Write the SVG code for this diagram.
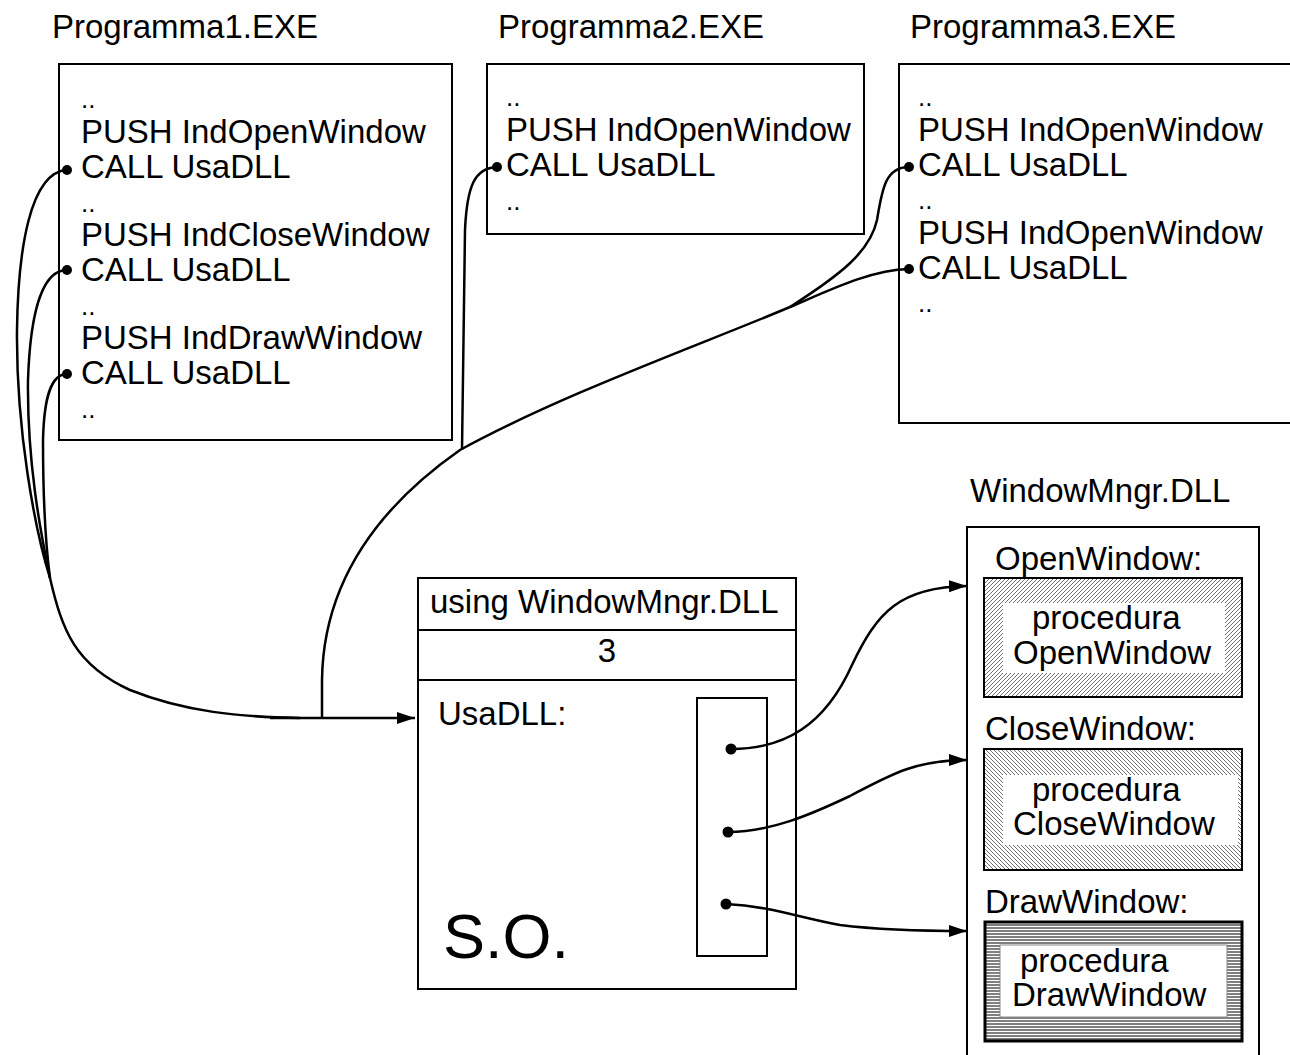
<svg xmlns="http://www.w3.org/2000/svg" width="1290" height="1055" viewBox="0 0 1290 1055">
<style>
text{font-family:"Liberation Sans",Arial,sans-serif;font-size:33px;fill:#000}
.dd{font-size:26px}
.box{fill:#fff;stroke:#000;stroke-width:2}
.ln{fill:none;stroke:#000;stroke-width:2}
.cn{fill:none;stroke:#000;stroke-width:2.5}
.dot{fill:#000}
.inner{fill:#fff;stroke:none}
</style>
<defs>
<marker id="arr" markerUnits="userSpaceOnUse" markerWidth="20" markerHeight="14" refX="18" refY="6" orient="auto">
<path d="M0,0 L18,6 L0,12 z" fill="#000"/>
</marker>
<pattern id="hOpen" patternUnits="userSpaceOnUse" width="4" height="4">
<rect width="4" height="4" fill="#fff"/>
<path d="M-1,1 L1,-1 M0,4 L4,0 M3,5 L5,3" stroke="#333" stroke-width="0.7"/>
</pattern>
<pattern id="hClose" patternUnits="userSpaceOnUse" width="4" height="4">
<rect width="4" height="4" fill="#fff"/>
<path d="M-1,3 L1,5 M0,0 L4,4 M3,-1 L5,1" stroke="#333" stroke-width="0.7"/>
</pattern>
<pattern id="hDraw" patternUnits="userSpaceOnUse" width="4" height="3">
<rect width="4" height="3" fill="#fff"/>
<path d="M0,1 H4" stroke="#000" stroke-width="1"/>
</pattern>
</defs>

<g id="programma1">
<text x="52" y="38">Programma1.EXE</text>
<rect class="box" x="59" y="64" width="393" height="376"/>
<text class="dd" x="81" y="108">..</text>
<text x="81" y="143">PUSH IndOpenWindow</text>
<text x="81" y="178">CALL UsaDLL</text>
<text class="dd" x="81" y="212">..</text>
<text x="81" y="246">PUSH IndCloseWindow</text>
<text x="81" y="281">CALL UsaDLL</text>
<text class="dd" x="81" y="315">..</text>
<text x="81" y="349">PUSH IndDrawWindow</text>
<text x="81" y="384">CALL UsaDLL</text>
<text class="dd" x="81" y="418">..</text>
</g>

<g id="programma2">
<text x="498" y="38">Programma2.EXE</text>
<rect class="box" x="487" y="64" width="377" height="170"/>
<text class="dd" x="506" y="106">..</text>
<text x="506" y="141">PUSH IndOpenWindow</text>
<text x="506" y="176">CALL UsaDLL</text>
<text class="dd" x="506" y="210">..</text>
</g>

<g id="programma3">
<text x="910" y="38">Programma3.EXE</text>
<path class="box" d="M1296,64 H899 V423 H1296"/>
<text class="dd" x="918" y="106">..</text>
<text x="918" y="141">PUSH IndOpenWindow</text>
<text x="918" y="176">CALL UsaDLL</text>
<text class="dd" x="918" y="209">..</text>
<text x="918" y="244">PUSH IndOpenWindow</text>
<text x="918" y="279">CALL UsaDLL</text>
<text class="dd" x="918" y="312">..</text>
</g>

<g id="so">
<rect class="box" x="418" y="578" width="378" height="411"/>
<path class="ln" d="M418,630 H796 M418,680 H796"/>
<text x="430" y="613">using WindowMngr.DLL</text>
<text x="607" y="662" text-anchor="middle">3</text>
<text x="438" y="725">UsaDLL:</text>
<text x="443" y="958" style="font-size:63px">S.O.</text>
<rect class="box" x="697" y="698" width="70" height="258"/>
</g>

<g id="windowmngr">
<text x="970" y="502">WindowMngr.DLL</text>
<path class="box" d="M967,1060 V527 H1259 V1060"/>
<text x="995" y="570">OpenWindow:</text>
<rect x="984" y="578" width="258" height="119" fill="url(#hOpen)" stroke="#000" stroke-width="2"/>
<rect class="inner" x="1003" y="603" width="222" height="70"/>
<text x="1032" y="629">procedura</text>
<text x="1013" y="664">OpenWindow</text>
<text x="985" y="740">CloseWindow:</text>
<rect x="984" y="749" width="258" height="121" fill="url(#hClose)" stroke="#000" stroke-width="2"/>
<rect class="inner" x="1003" y="775" width="235" height="70"/>
<text x="1032" y="801">procedura</text>
<text x="1013" y="835">CloseWindow</text>
<text x="985" y="913">DrawWindow:</text>
<rect x="985" y="922" width="257" height="119" fill="url(#hDraw)" stroke="#000" stroke-width="3"/>
<rect x="1000" y="945" width="227" height="72" fill="#fff" stroke="#888" stroke-width="1"/>
<text x="1020" y="972">procedura</text>
<text x="1012" y="1006">DrawWindow</text>
</g>

<g id="connectors">
<path class="cn" d="M67,170 C30,172 18,250 17,330 C16,430 35,530 50,578"/>
<path class="cn" d="M67,270 C40,270 30,320 28,380 C27,460 40,530 50,578"/>
<path class="cn" d="M67,374 C50,374 44,400 43,440 C43,500 45,540 50,578"/>
<path class="cn" d="M50,578 C62,630 75,665 130,690 C185,712 240,717 300,718"/>
<path class="cn" stroke-width="3" d="M270,718 L415,718" marker-end="url(#arr)"/>
<path class="cn" d="M497,167 C475,168 467,185 465,230 L462,450"/>
<path class="cn" d="M322,718 L322,680 C323,600 360,520 460,450 C560,395 700,345 790,307"/>
<path class="cn" d="M790,307 C830,290 870,270 909,269"/>
<path class="cn" d="M790,307 C840,275 870,252 877,220 C882,190 885,167 909,167"/>
<path class="cn" d="M731,749 C785,749 825,725 852,665 C877,612 900,587 967,586" marker-end="url(#arr)"/>
<path class="cn" d="M728,832 C770,832 810,815 850,796 C890,775 915,760 967,760" marker-end="url(#arr)"/>
<path class="cn" d="M726,904 C770,906 800,918 840,925 C880,930 920,931 967,931" marker-end="url(#arr)"/>
<circle class="dot" cx="67" cy="170" r="5"/>
<circle class="dot" cx="67" cy="270" r="5"/>
<circle class="dot" cx="67" cy="374" r="5"/>
<circle class="dot" cx="497" cy="167" r="5"/>
<circle class="dot" cx="909" cy="167" r="5"/>
<circle class="dot" cx="909" cy="269" r="5"/>
<circle class="dot" cx="731" cy="749" r="5.5"/>
<circle class="dot" cx="728" cy="832" r="5.5"/>
<circle class="dot" cx="726" cy="904" r="5.5"/>
</g>
</svg>
